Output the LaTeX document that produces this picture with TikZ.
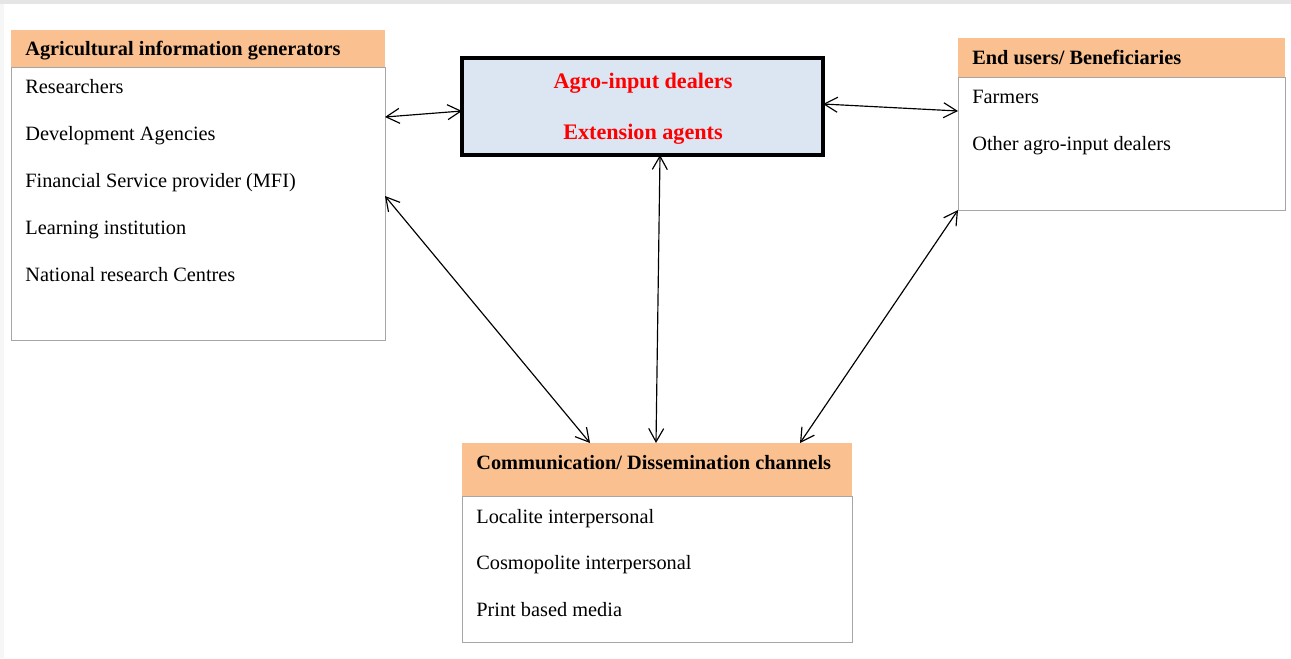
\documentclass[tikz,border=0pt]{standalone}
\usepackage{fontspec}
\setmainfont{Liberation Serif}
\usepackage{tikz}
\usetikzlibrary{arrows.meta}
\definecolor{headfill}{HTML}{FAC090}
\definecolor{hubfill}{HTML}{DCE6F2}
\definecolor{boxline}{HTML}{A6A6A6}

\begin{document}
\begin{tikzpicture}
        [x=0.6pt,y=-0.6pt,font=\fontsize{12.2pt}{14pt}\selectfont,
        head/.style={anchor=north west,fill=headfill,inner sep=0pt,outer sep=0pt},
        bodybox/.style={anchor=north west,draw=boxline,line width=0.6pt,inner sep=0pt,outer sep=0pt},
        item/.style={anchor=base west,inner sep=0pt},
        title/.style={item,font=\fontsize{12.2pt}{14pt}\selectfont\bfseries},
        hubtext/.style={anchor=base,inner sep=0pt,text=red,font=\fontsize{13.3pt}{15pt}\selectfont\bfseries},
        hub/.style={anchor=north west,draw=black,line width=2.4pt,fill=hubfill,inner sep=0pt,outer sep=0pt,
            minimum width=216.6pt,minimum height=58.2pt},
        link/.style={{Straight Barb[length=8pt,width=9pt]}-{Straight Barb[length=8pt,width=9pt]},line width=0.7pt}]
        \useasboundingbox (0,0) rectangle (1291,658);
        \fill[gray!20] (0,0) rectangle (1291,4);
        \fill[gray!7] (0,4) rectangle (4,658);

        % information generators
        \node[head,minimum width=224.4pt,minimum height=22.2pt] (genhead) at (11,30) {};
        \node[bodybox,minimum width=224.4pt,minimum height=163.8pt] (gen) at (11,67) {};
        \node[title] (gentitle) at (25,55) {Agricultural information generators};
        \node[item] (res) at (25,93) {Researchers};
        \node[item] (dev) at (25,140) {Development Agencies};
        \node[item] (mfi) at (25,187) {Financial Service provider (MFI)};
        \node[item] (learn) at (25,234) {Learning institution};
        \node[item] (nrc) at (25,281) {National research Centres};

        % dealers and agents
        \node[hub] (core) at (462,58) {};
        \node[hubtext] (dealers) at (643,88) {Agro-input dealers};
        \node[hubtext] (agents) at (643,139) {Extension agents};

        % end users
        \node[head,minimum width=196.2pt,minimum height=23.4pt] (usershead) at (958,38) {};
        \node[bodybox,minimum width=196.2pt,minimum height=79.8pt] (users) at (958,77) {};
        \node[title] (userstitle) at (972,64) {End users/ Beneficiaries};
        \node[item] (farm) at (972,103) {Farmers};
        \node[item] (other) at (972,150) {Other agro-input dealers};

        % channels
        \node[head,minimum width=234pt,minimum height=31.8pt] (chanhead) at (462,443) {};
        \node[bodybox,minimum width=234pt,minimum height=87.6pt] (chan) at (462,496) {};
        \node[title] (chantitle) at (476,469) {Communication/ Dissemination channels};
        \node[item] (local) at (476,523) {Localite interpersonal};
        \node[item] (cosmo) at (476,569) {Cosmopolite interpersonal};
        \node[item] (print) at (476,616) {Print based media};

        \draw [link] (gen.east |- 0,117) -- (core.west |- 0,111);
        \draw [link] (core.east |- 0,104) -- (users.west |- 0,111);
        \draw [link] (gen.east |- 0,196) -- (chanhead.north -| 590,0);
        \draw [link] (core.south -| 660,0) -- (chanhead.north -| 656,0);
        \draw [link] (users.south west) -- (chanhead.north -| 800,0);

    \end{tikzpicture}
\end{document}
